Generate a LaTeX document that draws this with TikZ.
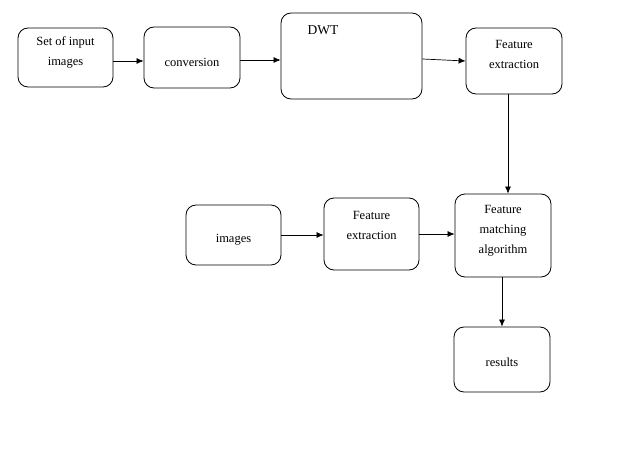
\documentclass[tikz,border=0pt]{standalone}
\usepackage{fontspec}
\setmainfont{Liberation Serif}
\usetikzlibrary{arrows.meta}
\begin{document}
\begin{tikzpicture}[x=1pt,y=-1pt,
  boxst/.style={draw, rounded corners=10pt, line width=0.8pt, inner sep=0pt},
  txt/.style={font=\fontsize{12.5}{20}\selectfont, align=center, inner sep=0pt},
  arr/.style={-{Latex[length=7pt,width=6pt]}, line width=0.7pt}]
\useasboundingbox (0,0) rectangle (625,460);
\fill[white] (0,0) rectangle (625,460);
\node[boxst, minimum width=95pt, minimum height=59pt] (b1) at (65.5,57.5) {};
\node[boxst, minimum width=96pt, minimum height=61pt] (b2) at (192,57.5) {};
\node[boxst, minimum width=141pt, minimum height=86pt] (b3) at (351.5,56) {};
\node[boxst, minimum width=96pt, minimum height=66pt] (b4) at (514,61) {};
\node[boxst, minimum width=96pt, minimum height=83pt] (b5) at (503,235.5) {};
\node[boxst, minimum width=95pt, minimum height=72pt] (b6) at (371.5,234) {};
\node[boxst, minimum width=95pt, minimum height=60pt] (b7) at (233.5,235) {};
\node[boxst, minimum width=96pt, minimum height=65pt] (b8) at (502,359.5) {};
\node[txt] (t1) at (65.5,52) {Set of input\\images};
\node[txt] (t2) at (192,62) {conversion};
\node[txt, font=\fontsize{13.5}{16}\selectfont] (t3) at (323,30) {DWT};
\node[txt] (t4) at (514,54) {Feature\\extraction};
\node[txt] (t5) at (503,230.5) {Feature\\matching\\algorithm};
\node[txt] (t6) at (371.5,225) {Feature\\extraction};
\node[txt] (t7) at (233.5,240) {images};
\node[txt] (t8) at (502,362) {results};
\draw[arr] ([yshift=-3.5pt]b1.east) -- ([yshift=-3.5pt]b2.west);
\draw[arr] ([yshift=-2.5pt]b2.east) -- ([yshift=-4pt]b3.west);
\draw[arr] ([yshift=-3pt]b3.east) -- (b4.west);
\draw[arr] ([xshift=-6pt]b4.south) -- ([xshift=5pt]b5.north);
\draw[arr] (b7.east) -- ([yshift=-1pt]b6.west);
\draw[arr] (b6.east) -- ([yshift=1.5pt]b5.west);
\draw[arr] ([xshift=-1pt]b5.south) -- (b8.north);
\end{tikzpicture}
\end{document}
